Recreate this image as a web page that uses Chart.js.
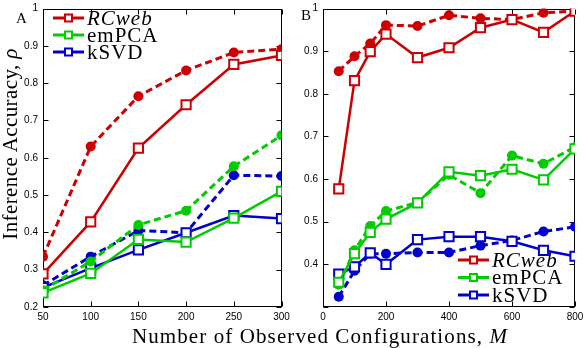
<!DOCTYPE html>
<html>
<head>
<meta charset="utf-8">
<script src="https://cdn.jsdelivr.net/npm/chart.js@4"></script>
<style>
  body { margin: 0; background: #fff; }
  #wrap { position: relative; width: 584px; height: 348px; overflow: hidden; }
  canvas { position: absolute; top: 0; }
  .lbl { position: absolute; font-family: "Liberation Serif", serif; color: #000; white-space: nowrap; line-height: 1; }
  .title { font-size: 21px; letter-spacing: 1.1px; transform-origin: center; }
  .ov { text-decoration: overline; font-style: italic; }
</style>
</head>
<body>
<div id="wrap">
  <canvas id="chartA" width="290" height="348" style="left:0;width:290px;height:348px"></canvas>
  <canvas id="chartB" width="294" height="348" style="left:290px;width:294px;height:348px"></canvas>
  <div class="lbl title" style="left:10px;top:144px;letter-spacing:0.4px;transform:translate(-50%,-50%) rotate(-90deg)">Inference Accuracy, <span class="ov">ρ</span></div>
  <div class="lbl title" style="left:320px;top:336px;transform:translate(-50%,-50%)">Number of Observed Configurations, <i>M</i></div>
  <div class="lbl" style="font-size:15px;left:16px;top:11px">A</div>
  <div class="lbl" style="font-size:15px;left:301px;top:8px">B</div>
</div>
<script>
// Panel A: number of observed configurations
const xA = [50, 100, 150, 200, 250, 300];
// Panel B
const xB = [50, 100, 150, 200, 300, 400, 500, 600, 700, 800];

// series names (legend)
const methods = ["RCweb", "emPCA", "kSVD"];
const colors = ["#cc0000", "#00cc00", "#0000cc"];

// Panel A values: solid (squares) and dashed (circles)
const rcSolidA = [0.289, 0.428, 0.626, 0.742, 0.850, 0.874];
const rcDashA = [0.335, 0.630, 0.765, 0.834, 0.882, 0.891];
const emSolidA = [0.238, 0.290, 0.381, 0.374, 0.438, 0.510];
const emDashA = [0.245, 0.322, 0.420, 0.458, 0.577, 0.660];
const ksSolidA = [0.252, 0.304, 0.353, 0.399, 0.445, 0.437];
const ksDashA = [0.258, 0.335, 0.405, 0.399, 0.553, 0.551];

// Panel B values
const rcSolidB = [0.577, 0.831, 0.899, 0.940, 0.885, 0.908, 0.955, 0.974, 0.944, 0.994];
const rcDashB = [0.853, 0.888, 0.918, 0.961, 0.959, 0.984, 0.977, 0.974, 0.990, 0.994];
const emSolidB = [0.358, 0.425, 0.475, 0.506, 0.544, 0.617, 0.608, 0.623, 0.598, 0.671];
const emDashB = [0.352, 0.433, 0.490, 0.525, 0.545, 0.610, 0.567, 0.655, 0.636, 0.675];
const ksSolidB = [0.377, 0.394, 0.427, 0.400, 0.458, 0.465, 0.465, 0.454, 0.433, 0.419];
const ksDashB = [0.324, 0.385, 0.425, 0.425, 0.428, 0.428, 0.444, 0.456, 0.477, 0.488];

function solid(data, xs, color) {
  return {
    data: data.map((v, i) => ({ x: xs[i], y: v })),
    borderColor: color,
    borderWidth: 2.5,
    pointStyle: "rect",
    pointRadius: 6.5,
    pointBorderWidth: 2,
    pointBorderColor: color,
    pointBackgroundColor: "#fff",
    tension: 0,
  };
}

function dashed(data, xs, color) {
  return {
    data: data.map((v, i) => ({ x: xs[i], y: v })),
    borderColor: color,
    borderWidth: 3,
    borderDash: [7, 4],
    pointStyle: "circle",
    pointRadius: 5,
    pointBorderWidth: 0,
    pointBackgroundColor: color,
    tension: 0,
  };
}

// box around the plot with matlab-style inner ticks
const boxTicks = {
  id: "boxTicks",
  beforeDatasetsDraw(chart) {
    const { ctx, chartArea: a, scales } = chart;
    const L = Math.round(a.left) + 0.5, R = Math.round(a.right) - 0.5;
    const T = Math.round(a.top) + 0.5, B = Math.round(a.bottom) - 0.5;
    ctx.save();
    ctx.strokeStyle = "#000";
    ctx.lineWidth = 1;
    ctx.strokeRect(L, T, R - L, B - T);
    ctx.beginPath();
    scales.x.ticks.forEach((t) => {
      const px = Math.round(scales.x.getPixelForValue(t.value)) + 0.5;
      ctx.moveTo(px, B); ctx.lineTo(px, B - 5);
      ctx.moveTo(px, T); ctx.lineTo(px, T + 5);
    });
    scales.y.ticks.forEach((t) => {
      const py = Math.round(scales.y.getPixelForValue(t.value)) + 0.5;
      ctx.moveTo(L, py); ctx.lineTo(L + 5, py);
      ctx.moveTo(R, py); ctx.lineTo(R - 5, py);
    });
    ctx.stroke();
    ctx.restore();
  },
};

// legend: line with a square marker, then the label
const lineLegend = {
  id: "lineLegend",
  afterDatasetsDraw(chart, args, opts) {
    const ctx = chart.ctx;
    ctx.save();
    methods.forEach((name, i) => {
      const y = opts.y0 + i * opts.gap;
      ctx.strokeStyle = colors[i];
      ctx.lineWidth = 3;
      ctx.beginPath();
      ctx.moveTo(opts.x0, y);
      ctx.lineTo(opts.x0 + 31, y);
      ctx.stroke();
      ctx.fillStyle = "#fff";
      ctx.lineWidth = 2;
      ctx.fillRect(opts.x0 + 12, y - 3.5, 7, 7);
      ctx.strokeRect(opts.x0 + 12, y - 3.5, 7, 7);
      ctx.fillStyle = "#000";
      ctx.textBaseline = "middle";
      ctx.letterSpacing = "1px";
      ctx.font = (i === 0 ? "italic " : "") + "21px 'Liberation Serif'";
      ctx.fillText(name, opts.x0 + 34, y + 1);
    });
    ctx.restore();
  },
};

function yFmt(v) {
  if (Math.abs(v - 1) < 1e-6) return "1";
  return v.toFixed(1);
}

function makeChart(id, xs, sets, xOpts, yOpts, pad, yw, legend) {
  const ds = [];
  sets.forEach((s, i) => {
    ds.push(solid(s[0], xs, colors[i]));
    ds.push(dashed(s[1], xs, colors[i]));
  });
  return new Chart(document.getElementById(id), {
    type: "line",
    data: { datasets: ds },
    plugins: [boxTicks, lineLegend],
    options: {
      responsive: false,
      animation: false,
      layout: { padding: pad },
      plugins: { legend: { display: false }, tooltip: { enabled: false }, lineLegend: legend },
      scales: {
        x: {
          type: "linear",
          min: xOpts.min, max: xOpts.max,
          grid: { display: false, drawTicks: false },
          border: { display: false },
          ticks: {
            stepSize: xOpts.step, color: "#000", padding: 4,
            maxRotation: 0,
            font: { family: "Liberation Sans", size: 10 },
          },
          afterFit: (s) => { s.height = 41; s.paddingLeft = 0; s.paddingRight = 0; },
        },
        y: {
          min: yOpts.min, max: 1,
          grid: { display: false, drawTicks: false },
          border: { display: false },
          ticks: {
            stepSize: 0.1, color: "#000", padding: 5,
            font: { family: "Liberation Sans", size: 10 },
            callback: (v) => (yOpts.hide && Math.abs(v - yOpts.min) < 1e-6 ? "" : yFmt(v)),
          },
          afterFit: (s) => { s.width = yw; s.paddingTop = 0; s.paddingBottom = 0; },
        },
      },
    },
  });
}

makeChart("chartA", xA,
  [[rcSolidA, rcDashA], [emSolidA, emDashA], [ksSolidA, ksDashA]],
  { min: 50, max: 300, step: 50 }, { min: 0.2, hide: false },
  { left: 0, right: 7, top: 4, bottom: 0 }, 43,
  { x0: 53, y0: 18, gap: 17 });

makeChart("chartB", xB,
  [[rcSolidB, rcDashB], [emSolidB, emDashB], [ksSolidB, ksDashB]],
  { min: 0, max: 800, step: 200 }, { min: 0.3, hide: true },
  { left: 0, right: 9, top: 4, bottom: 0 }, 33,
  { x0: 168, y0: 260, gap: 17.5 });
</script>
</body>
</html>
